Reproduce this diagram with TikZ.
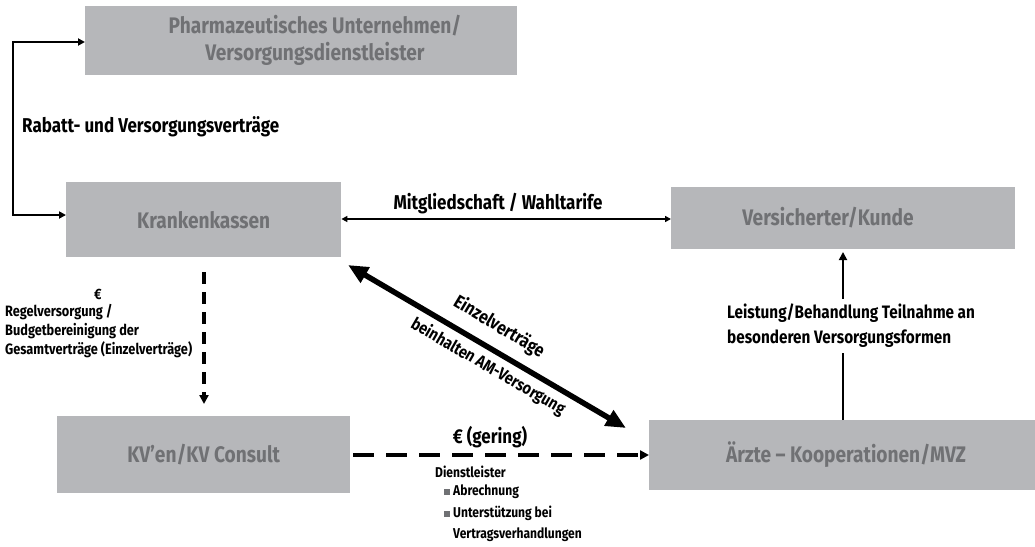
\documentclass[tikz,border=0pt]{standalone}
\usepackage{fontspec}
\setmainfont{Fira Sans}[FakeStretch=0.85]
\usetikzlibrary{arrows.meta}
\definecolor{boxgray}{HTML}{B6B7BA}
\definecolor{txtgray}{HTML}{707174}
\begin{document}
\begin{tikzpicture}[x=1pt,y=-1pt,
  gbox/.style={fill=boxgray,draw=none,inner sep=0pt,anchor=north west},
  btxt/.style={inner sep=0pt,font=\bfseries\fontsize{22.5}{27}\selectfont,text=txtgray,align=center},
  lbl/.style={font=\bfseries\fontsize{20}{25}\selectfont,inner sep=0pt,align=left},
  slbl/.style={font=\bfseries\fontsize{15}{19}\selectfont,inner sep=0pt,align=left},
  sslbl/.style={font=\bfseries\fontsize{14.2}{21}\selectfont,inner sep=0pt,align=left},
  dconn/.style={line width=3.5pt,-{Triangle[length=9pt,width=9pt]}},
]
\useasboundingbox (0,0) rectangle (1035,546);
\node[gbox,minimum width=432pt,minimum height=69pt] (ph) at (85,6) {};
\node[btxt] (pht) at (315,40) {Pharmazeutisches Unternehmen/\\Versorgungsdienstleister};
\node[gbox,minimum width=275pt,minimum height=75pt] (kk) at (66,182) {};
\node[btxt] (kkt) at (kk.center) {Krankenkassen};
\node[gbox,minimum width=344pt,minimum height=62pt] (vk) at (671,187) {};
\node[btxt] (vkt) at (828,218) {Versicherter/Kunde};
\node[gbox,minimum width=293pt,minimum height=77pt] (kv) at (57,416) {};
\node[btxt] (kvt) at (kv.center) {KV’en/KV Consult};
\node[gbox,minimum width=386pt,minimum height=70pt] (ae) at (649,420) {};
\node[btxt] (aet) at (846,455) {Ärzte – Kooperationen/MVZ};

\coordinate (c1) at (13,42);
\coordinate (c2) at (13,215);
\draw[line width=2pt,{Triangle[length=7pt,width=7pt]}-{Triangle[length=7pt,width=7pt]}] (ph.west |- c1) -- (c1) -- (c2) -- (kk.west |- c2);
\node[lbl,anchor=west] (rab) at (22,127) {Rabatt- und Versorgungsverträge};

\coordinate (m1) at (0,219);
\draw[line width=1.5pt,{Triangle[length=6pt,width=6pt]}-{Triangle[length=6pt,width=6pt]}] (kk.east |- m1) -- (vk.west |- m1);
\node[lbl] (mit) at (498,204) {Mitgliedschaft / Wahltarife};

\coordinate (d1) at (204,272);
\coordinate (d2) at (204,404);
\draw[dconn,dash pattern=on 12pt off 8pt] (d1) -- (d2);
\node[slbl,anchor=north west] (reg) at (5,304) {Regelversorgung /\\Budgetbereinigung der\\Gesamtverträge (Einzelverträge)};
\node[slbl] (eur) at (98,294) {€};

\coordinate (h1) at (353,455);
\draw[dconn,dash pattern=on 21pt off 12pt] (h1) -- (ae.west |- h1);
\node[lbl] (ger) at (490,437) {€ (gering)};
\node[sslbl,anchor=north west] (dl) at (435,466) {Dienstleister};
\node[sslbl,anchor=north west] (ab) at (444,485) {{\color{txtgray}\rule[1pt]{6pt}{6pt}}\hspace{3pt}Abrechnung};
\node[sslbl,anchor=north west] (un) at (444,506) {{\color{txtgray}\rule[1pt]{6pt}{6pt}}\hspace{3pt}Unterstützung bei\\\hspace*{9pt}Vertragsverhandlungen};

\coordinate (v1) at (843,252);
\draw[line width=1.8pt,-{Triangle[length=8pt,width=8pt]}] (ae.north -| v1) -- (v1);
\node[lbl,font=\bfseries\fontsize{18}{25}\selectfont,fill=white,inner ysep=5pt,anchor=west] (lei) at (727,326) {Leistung/Behandlung Teilnahme an\\besonderen Versorgungsformen};

\coordinate (e1) at (348,265);
\coordinate (e2) at (626,428);
\draw[line width=5.5pt,{Triangle[length=20pt,width=17pt]}-{Triangle[length=20pt,width=17pt]}] (e1) -- (e2);
\node[lbl,font=\bfseries\fontsize{18.5}{22}\selectfont,rotate=-31] (ein) at (499,327) {Einzelverträge};
\node[lbl,font=\bfseries\fontsize{17}{20}\selectfont,rotate=-30] (bei) at (488,367) {beinhalten AM-Versorgung};
\end{tikzpicture}
\end{document}
